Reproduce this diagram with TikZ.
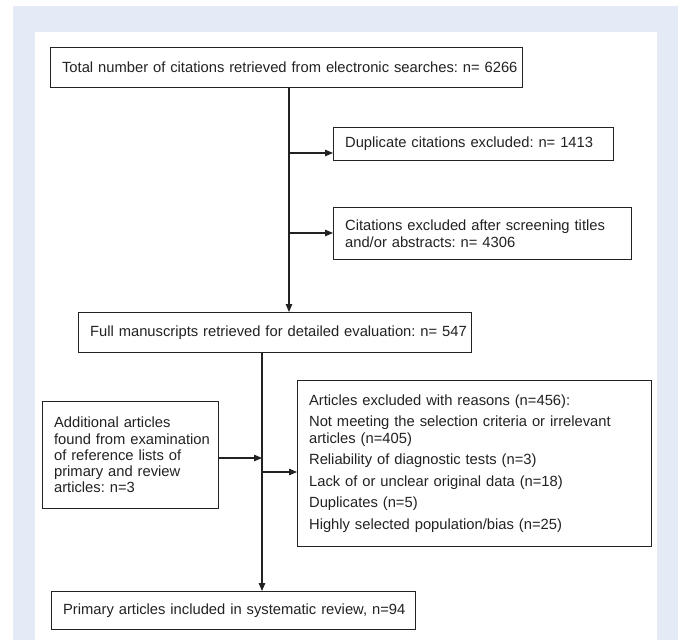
\documentclass[tikz,border=0pt]{standalone}
\usepackage{fontspec}
\setmainfont{Liberation Sans}
\usetikzlibrary{arrows.meta}
\definecolor{bgblue}{HTML}{E4EBF7}
\definecolor{ink}{HTML}{222222}
\frenchspacing
\begin{document}
\begin{tikzpicture}[x=1pt,y=-1pt,
  font=\fontsize{14.75}{16.3}\selectfont,
  box/.style={draw=ink, line width=1.2pt, anchor=north west, align=left,
    inner xsep=11.5pt, inner ysep=0pt, text=ink},
  conn/.style={draw=ink, line width=1.1pt},
  arr/.style={conn, -{Triangle[length=8pt,width=6.5pt]}}]
\useasboundingbox (0,0) rectangle (678,640);
\fill[bgblue] (13,6) rectangle (678,640);
\fill[white] (35,32) rectangle (657,640);

\node[box, text width=449pt, minimum height=40pt] (total) at (50,47)
  {\mbox{Total number of citations retrieved from electronic searches: n= 6266}};
\node[box, text width=257pt, minimum height=33pt] (dup) at (333,127)
  {\mbox{Duplicate citations excluded: n= 1413}};
\node[box, text width=275pt, minimum height=52pt] (cit) at (333,207)
  {\mbox{Citations excluded after screening titles}\\\mbox{and/or abstracts: n= 4306}};
\node[box, text width=370pt, minimum height=40pt] (full) at (78,312)
  {\mbox{Full manuscripts retrieved for detailed evaluation: n= 547}};
\node[box, text width=153pt, minimum height=107pt] (add) at (42,401)
  {\mbox{Additional articles}\\\mbox{found from examination}\\\mbox{of reference lists of}\\\mbox{primary and review}\\\mbox{articles: n=3}};
\node[box, text width=331pt, minimum height=166pt] (excl) at (297,380)
  {Articles excluded with reasons (n=456):\\[5.3pt]
   \mbox{Not meeting the selection criteria or irrelevant}\\articles (n=405)\\[5.3pt]
   Reliability of diagnostic tests (n=3)\\[5.3pt]
   Lack of or unclear original data (n=18)\\[5.3pt]
   Duplicates (n=5)\\[5.3pt]
   Highly selected population/bias (n=25)};
\node[box, text width=341pt, minimum height=38pt] (final) at (51,591)
  {\mbox{Primary articles included in systematic review, n=94}};

\coordinate (c1) at (289,0);
\coordinate (c2) at (262,0);
\coordinate (j1) at (289,153);
\coordinate (j2) at (289,233);
\coordinate (j3) at (262,458);
\coordinate (j4) at (262,472);

\draw[arr] (total.south -| c1) -- (full.north -| c1);
\draw[arr] (j1) -- (dup.west |- j1);
\draw[arr] (j2) -- (cit.west |- j2);
\draw[arr] (full.south -| c2) -- (final.north -| c2);
\draw[arr] (add.east |- j3) -- (j3);
\draw[arr] (j4) -- (excl.west |- j4);
\end{tikzpicture}
\end{document}
